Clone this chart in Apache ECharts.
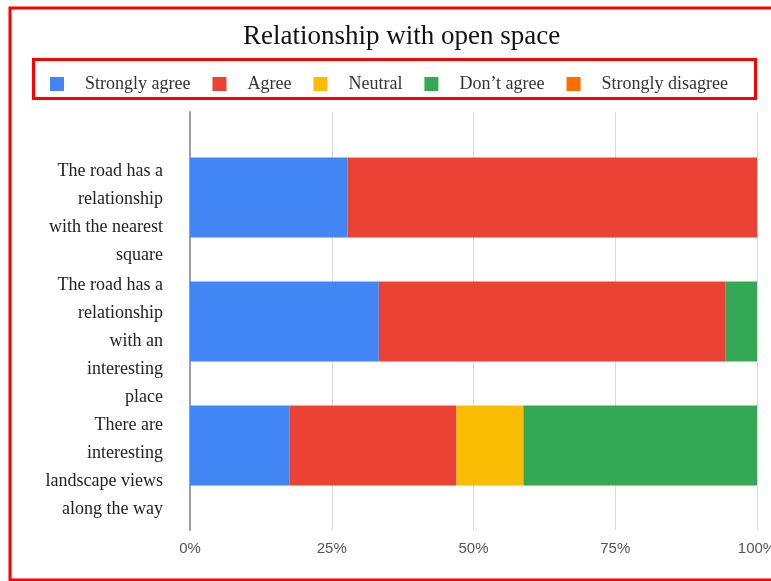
<!DOCTYPE html>
<html>
<head>
<meta charset="utf-8">
<script src="https://cdn.jsdelivr.net/npm/echarts@6/dist/echarts.min.js"></script>
<style>
  html, body { margin: 0; padding: 0; background: #fff; }
  #chart { width: 771px; height: 581px; }
</style>
</head>
<body>
<div id="chart"></div>
<script>
// categories (top to bottom)
const questions = [
  'The road has a\nrelationship\nwith the nearest\nsquare',
  'The road has a\nrelationship\nwith an\ninteresting\nplace',
  'There are\ninteresting\nlandscape views\nalong the way'
];

// percentage of answers per category
const stronglyAgree    = [27.8, 33.3, 17.6];
const agree            = [72.2, 61.1, 29.4];
const neutral          = [0, 0, 11.8];
const dontAgree        = [0, 5.6, 41.2];
const stronglyDisagree = [0, 0, 0];

const xTicks = [0, 25, 50, 75, 100];

const seriesDefs = [
  { name: 'Strongly agree', data: stronglyAgree, color: '#4285f4' },
  { name: 'Agree', data: agree, color: '#ea4335' },
  { name: 'Neutral', data: neutral, color: '#fbbc04' },
  { name: 'Don’t agree', data: dontAgree, color: '#34a853' },
  { name: 'Strongly disagree', data: stronglyDisagree, color: '#ff6d01' }
];

const serif = '"Liberation Serif", "Times New Roman", serif';
const sans = '"Liberation Sans", Arial, sans-serif';

// labels sit a little below their bars, like in the source chart
const labelDrop = ['a', 'b', 'c'];

const chart = echarts.init(document.getElementById('chart'));

chart.setOption({
  animation: false,
  backgroundColor: '#fff',
  title: {
    text: 'Relationship with open space',
    left: 238,
    top: 18,
    textStyle: { fontFamily: serif, fontSize: 27, fontWeight: 'normal', color: '#111' }
  },
  legend: {
    left: 45,
    top: 70,
    icon: 'rect',
    itemWidth: 14,
    itemHeight: 14,
    itemGap: 22,
    data: seriesDefs.map(s => s.name),
    textStyle: { fontFamily: serif, fontSize: 18, color: '#333', padding: [0, 0, 0, 16] }
  },
  graphic: [
    {
      type: 'rect',
      shape: { x: 10, y: 8, width: 790, height: 572 },
      style: { fill: 'none', stroke: '#ff0000', lineWidth: 3 },
      silent: true
    },
    {
      type: 'rect',
      shape: { x: 33.5, y: 59.5, width: 722, height: 39 },
      style: { fill: 'none', stroke: '#ff0000', lineWidth: 3 },
      silent: true
    }
  ],
  grid: [
    { left: 190, right: 14, top: 112, bottom: 51, outerBoundsMode: 'none', containLabel: false },
    { left: 190, right: 14, top: 135.5, bottom: 73.5, outerBoundsMode: 'none', containLabel: false }
  ],
  xAxis: [
    {
      gridIndex: 0,
      type: 'value',
      min: xTicks[0],
      max: xTicks[xTicks.length - 1],
      interval: 25,
      axisLine: { show: false },
      axisTick: { show: false },
      splitLine: { lineStyle: { color: '#d9d9d9', width: 1 } },
      axisLabel: {
        formatter: '{value}%',
        fontFamily: sans,
        fontSize: 15,
        color: '#555',
        margin: 11
      }
    },
    {
      gridIndex: 1,
      type: 'value',
      min: 0,
      max: 100,
      show: false
    }
  ],
  yAxis: [
    {
      gridIndex: 0,
      type: 'value',
      axisLine: { show: true, lineStyle: { color: '#9e9e9e', width: 2 } },
      axisTick: { show: false },
      axisLabel: { show: false },
      splitLine: { show: false }
    },
    {
      gridIndex: 1,
      type: 'category',
      inverse: true,
      data: questions,
      axisLine: { show: false },
      axisTick: { show: false },
      axisLabel: {
        interval: 0,
        hideOverlap: false,
        margin: 27,
        formatter: (value, idx) => {
          const gap = labelDrop[idx] || 'b';
          return '{' + gap + '| }\n' +
            value.split('\n').map(line => '{t|' + line + '}').join('\n');
        },
        rich: {
          a: { fontSize: 4, lineHeight: 32 },
          b: { fontSize: 4, lineHeight: 39 },
          c: { fontSize: 4, lineHeight: 44 },
          t: { fontFamily: serif, fontSize: 18, lineHeight: 28, color: '#222', align: 'right' }
        }
      }
    }
  ],
  series: seriesDefs.map(s => ({
    name: s.name,
    type: 'bar',
    stack: 'total',
    xAxisIndex: 1,
    yAxisIndex: 1,
    barWidth: 80,
    itemStyle: { color: s.color },
    data: s.data
  }))
});
</script>
</body>
</html>
